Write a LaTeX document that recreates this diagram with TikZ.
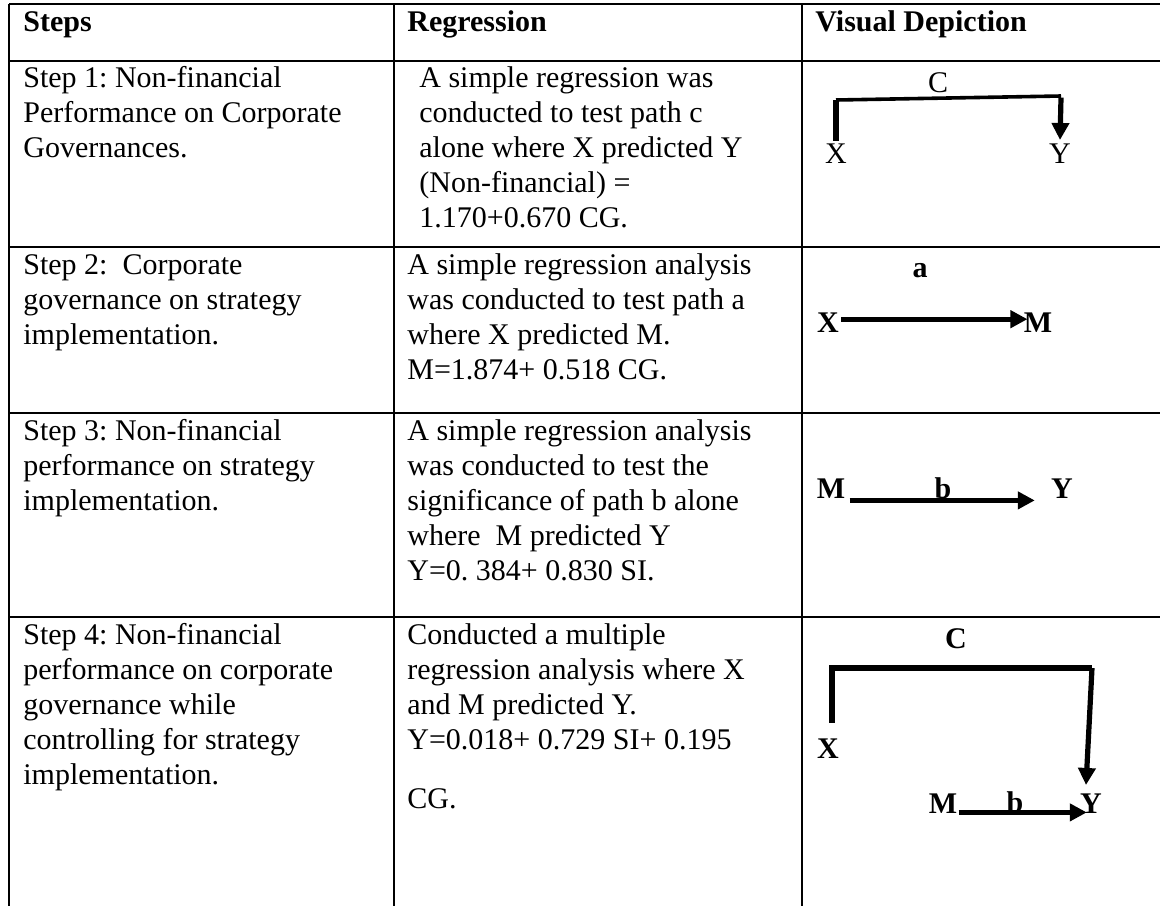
\documentclass[tikz,border=0pt]{standalone}
\usepackage{fontspec}
\setmainfont{Liberation Serif}
\usetikzlibrary{arrows.meta}

\tikzset{
    txt/.style={anchor=north west, inner sep=0pt, align=left, font=\fontsize{15}{17.5}\selectfont},
    hdr/.style={txt, font=\fontsize{15}{17.5}\selectfont\bfseries},
    var/.style={anchor=base, inner sep=0pt, font=\fontsize{15}{17.5}\selectfont},
    bvar/.style={var, font=\fontsize{15}{17.5}\selectfont\bfseries},
    rule/.style={line width=1pt},
    stem/.style={line width=2.7pt},
    bar/.style={line width=1.8pt},
    link/.style={line width=2.6pt, -{Triangle[length=8.5pt,width=8.5pt]}}
}

\begin{document}
\frenchspacing
\begin{tikzpicture}[x=0.5pt, y=-0.5pt]
        \useasboundingbox (0,0) rectangle (1160,906);

        % Table rules
        \draw[rule] (9,4) -- (1160,4);
        \draw[rule] (9,61) -- (1160,61);
        \draw[rule] (9,247) -- (1160,247);
        \draw[rule] (9,413) -- (1160,413);
        \draw[rule] (9,617) -- (1160,617);
        \draw[rule] (9,4) -- (9,906);
        \draw[rule] (394,4) -- (394,906);
        \draw[rule] (802,4) -- (802,906);

        % Header
        \node[hdr] (hsteps) at (23,6.5) {\strut Steps};
        \node[hdr] (hreg) at (407,6.5) {\strut Regression};
        \node[hdr] (hvis) at (815,6.5) {\strut Visual Depiction};

        % Step column
        \node[txt] (step1) at (23,62.5) {\strut Step 1: Non-financial\\Performance on Corporate\\Governances.};
        \node[txt] (step2) at (23,249.5) {\strut Step 2:\ \ Corporate\\governance on strategy\\implementation.};
        \node[txt] (step3) at (23,415.5) {\strut Step 3: Non-financial\\performance on strategy\\implementation.};
        \node[txt] (step4) at (23,619.5) {\strut Step 4: Non-financial\\performance on corporate\\governance while\\controlling for strategy\\implementation.};

        % Regression column
        \node[txt] (reg1) at (419,62.5) {\strut A simple regression was\\conducted to test path c\\alone where X predicted Y\\(Non-financial) =\\1.170+0.670 CG.};
        \node[txt] (reg2) at (407,249.5) {\strut A simple regression analysis\\was conducted to test path a\\where X predicted M.\\M=1.874+ 0.518 CG.};
        \node[txt] (reg3) at (407,415.5) {\strut A simple regression analysis\\was conducted to test the\\significance of path b alone\\where\ \ M predicted Y\\Y=0. 384+ 0.830 SI.};
        \node[txt] (reg4) at (407,619.5) {\strut Conducted a multiple\\regression analysis where X\\and M predicted Y.\\Y=0.018+ 0.729 SI+ 0.195\\[12pt]CG.};

        % Step 1 picture
        \node[var] (x1) at (836,163) {X};
        \node[var] (y1) at (1060,163) {Y};
        \node[var] (c1) at (938,92) {C};
        \coordinate (tl1) at (836,100);
        \coordinate (tr1) at (1061,96);
        \draw[stem] ([yshift=1pt]x1.north) -- (tl1);
        \draw[bar] (tl1) -- (tr1);
        \draw[link] ([yshift=-0.8pt]tr1) -- ([yshift=1.5pt]y1.north);

        % Step 2 picture
        \node[bvar] (x2) at (828,332) {X};
        \node[bvar] (m2) at (1038,332) {M};
        \node[bvar] (a2) at (920,277) {a};
        \draw[link] ([xshift=1pt,yshift=1.5pt]x2.east) -- ([xshift=2pt,yshift=1.5pt]m2.west);

        % Step 3 picture
        \node[bvar] (m3) at (831,498) {M};
        \node[bvar] (y3) at (1062,498) {Y};
        \node[bvar] (b3) at (943,498) {b};
        \draw[link] ([xshift=2pt,yshift=-1pt]m3.south east) -- ([xshift=-8pt,yshift=-1pt]y3.south west);

        % Step 4 picture
        \node[bvar] (x4) at (828,758) {X};
        \node[bvar] (c4) at (956,648) {C};
        \node[bvar] (m4) at (943,813) {M};
        \node[bvar] (y4) at (1091,813) {Y};
        \node[bvar] (b4) at (1015,812) {b};
        \coordinate (tl4) at (832,668);
        \coordinate (tr4) at (1092,668);
        \draw[stem] ([xshift=2pt,yshift=7.5pt]x4.north) -- (tl4) -- (tr4);
        \draw[link] (tr4) -- ([xshift=-2.5pt,yshift=4pt]y4.north);
        \draw[link] ([xshift=0.5pt,yshift=0.5pt]m4.south east) -- ([xshift=3.5pt,yshift=0.5pt]y4.south west);
\end{tikzpicture}
\end{document}
